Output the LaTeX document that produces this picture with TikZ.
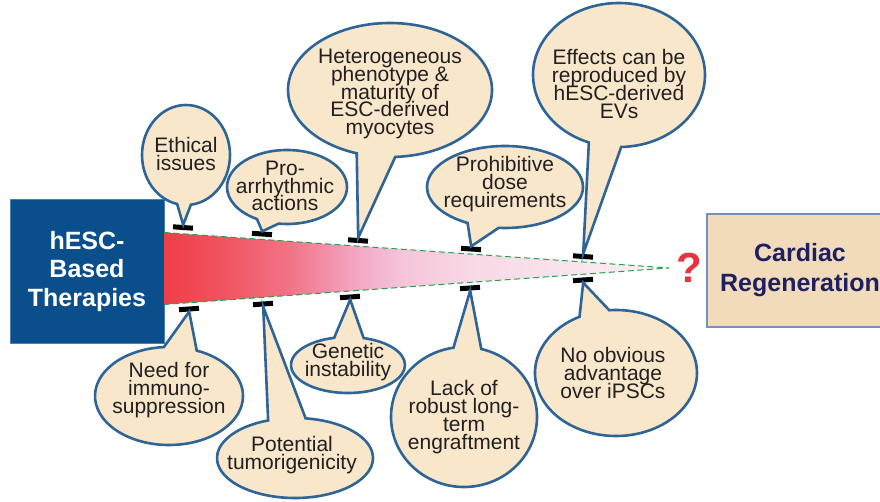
\documentclass[tikz,border=0pt]{standalone}
\usepackage{fontspec}
\setmainfont{Liberation Sans}
\usetikzlibrary{shapes.callouts}
\definecolor{bubfill}{HTML}{F8E7CA}
\definecolor{bubline}{HTML}{2E6496}
\definecolor{hescblue}{HTML}{0B4E8C}
\definecolor{hescline}{HTML}{4A7DB3}
\definecolor{w0}{HTML}{EF3E48}
\definecolor{w1}{HTML}{F05562}
\definecolor{w2}{HTML}{F17487}
\definecolor{w3}{HTML}{F3A9C8}
\definecolor{w4}{HTML}{F5C4DA}
\definecolor{w5}{HTML}{F8D8E6}
\definecolor{w6}{HTML}{FBF0F5}
\definecolor{dashgreen}{HTML}{22A34B}
\definecolor{qred}{HTML}{E8333C}
\definecolor{cardfill}{HTML}{F2DBBA}
\definecolor{cardline}{HTML}{7391BA}
\definecolor{cardtext}{HTML}{1E2061}
\definecolor{txt}{HTML}{231F20}
\pgfdeclarehorizontalshading{wedgeshade}{100bp}{color(0bp)=(w0); color(25bp)=(w0);
  color(31.2bp)=(w1); color(37.5bp)=(w2); color(44.4bp)=(w3); color(48.4bp)=(w4);
  color(55.3bp)=(w5); color(75bp)=(w6); color(100bp)=(w6)}
\newcommand{\tightls}{\lineskiplimit=-20pt\relax\lineskip=0pt\relax}
\tikzset{
  bubble/.style={ellipse callout, draw=bubline, fill=bubfill, line width=2.6pt,
    inner sep=0pt, outer sep=0pt},
  btext/.style={align=center, text=txt, inner sep=0pt,
    font=\fontsize{21}{17.8}\selectfont\tightls},
  tickbar/.style={fill=black, minimum width=20pt, minimum height=5pt, inner sep=0pt},
}
\begin{document}
\begin{tikzpicture}[x=1pt,y=-1pt]
\useasboundingbox (0,0) rectangle (880,502);
\fill[white] (0,0) rectangle (880,502);

% left box
\node[draw=hescline, line width=1pt, fill=hescblue, minimum width=154pt, minimum height=143pt,
  text=white, align=center, inner sep=0pt,
  font=\bfseries\fontsize{25}{28.5}\selectfont\tightls] (hesc) at (87,271.5)
  {hESC-\\Based\\Therapies};

% wedge
\coordinate (tl) at (164,232.5);
\coordinate (bl) at (164,304.5);
\coordinate (apex) at (669,268);
\shade[shading=wedgeshade] (tl) -- (apex) -- (bl) -- cycle;
\draw[dashgreen, line width=1pt, dash pattern=on 6pt off 3.5pt] (tl) -- (apex) -- (bl);

% target box
\node[draw=cardline, line width=1.2pt, fill=cardfill, minimum width=186pt, minimum height=113pt,
  text=cardtext, align=center, inner sep=0pt,
  font=\bfseries\fontsize{25}{30}\selectfont\tightls] (card) at (800,270.5)
  {Cardiac\\Regeneration};

\node[text=qred, inner sep=0pt, font=\bfseries\fontsize{42}{42}\selectfont] (q) at (689,268) {?};

% ticks
\node[tickbar, rotate=-4] (t1) at (183,227.5) {};
\node[tickbar, rotate=-4] (t2) at (262,234) {};
\node[tickbar, rotate=-4] (t3) at (358,240.5) {};
\node[tickbar, rotate=-4] (t4) at (471,249) {};
\node[tickbar, rotate=-4] (t5) at (583,256.5) {};
\node[tickbar, rotate=4] (u1) at (189,309) {};
\node[tickbar, rotate=4] (u2) at (263,304) {};
\node[tickbar, rotate=4] (u3) at (350,297) {};
\node[tickbar, rotate=4] (u4) at (470,288) {};
\node[tickbar, rotate=4] (u5) at (583,280) {};

% bubbles above
\node[bubble, minimum width=88pt, minimum height=100pt,
  callout absolute pointer={(t1.north)}, callout pointer arc=18] (b1) at (186,155) {};
\node[btext, yshift=1pt] (x1) at (b1.center) {Ethical\\issues};

\node[bubble, minimum width=120pt, minimum height=74pt,
  callout absolute pointer={(t2.north)}, callout pointer arc=22] (b2) at (287,187) {};
\node[btext, yshift=1pt, xshift=-2pt] (x2) at (b2.center) {Pro-\\arrhythmic\\actions};

\node[bubble, minimum width=204pt, minimum height=134pt,
  callout absolute pointer={(t3.north)}, callout pointer arc=22] (b3) at (390,90) {};
\node[btext, yshift=-4pt] (x3) at (b3.center) {Heterogeneous\\phenotype \&\\maturity of\\ESC-derived\\myocytes};

\node[bubble, minimum width=156pt, minimum height=82pt,
  callout absolute pointer={(t4.north)}, callout pointer arc=24] (b4) at (505,187) {};
\node[btext, yshift=3pt] (x4) at (b4.center) {Prohibitive\\dose\\requirements};

\node[bubble, minimum width=172pt, minimum height=144pt,
  callout absolute pointer={(t5.north)}, callout pointer arc=22] (b5) at (619,75) {};
\node[btext, yshift=-9pt] (x5) at (b5.center) {Effects can be\\reproduced by\\hESC-derived\\EVs};

% bubbles below
\node[bubble, minimum width=148pt, minimum height=98pt,
  callout absolute pointer={(u1.south)}, callout pointer arc=26] (b6) at (169,396) {};
\node[btext, yshift=6pt] (x6) at (b6.center) {Need for\\immuno-\\suppression};

\node[bubble, minimum width=156pt, minimum height=80pt,
  callout absolute pointer={(u2.south)}, callout pointer arc=28] (b7) at (295,458) {};
\node[btext, yshift=3pt, xshift=-3pt] (x7) at (b7.center) {Potential\\tumorigenicity};

\node[bubble, minimum width=114pt, minimum height=56pt,
  callout absolute pointer={(u3.south)}, callout pointer arc=30] (b8) at (348,365) {};
\node[btext, yshift=3pt] (x8) at (b8.center) {Genetic\\instability};

\node[bubble, minimum width=146pt, minimum height=140pt,
  callout absolute pointer={(u4.south)}, callout pointer arc=22] (b9) at (464,417) {};
\node[btext] (x9) at (b9.center) {Lack of\\robust long-\\term\\engraftment};

\node[bubble, minimum width=162pt, minimum height=126pt,
  callout absolute pointer={(u5.south)}, callout pointer arc=22] (b10) at (616,373) {};
\node[btext, xshift=-3pt] (x10) at (b10.center) {No obvious\\advantage\\over iPSCs};
\end{tikzpicture}
\end{document}
